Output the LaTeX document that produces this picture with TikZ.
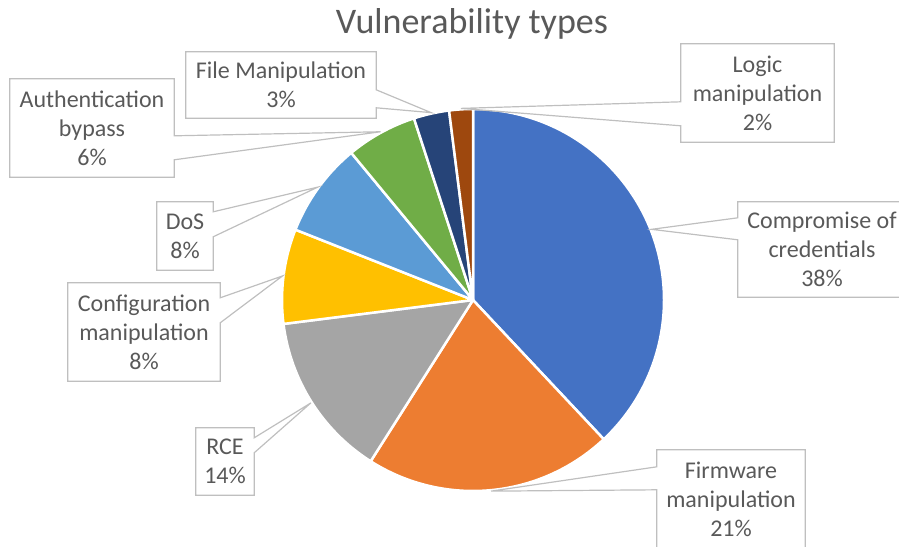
\documentclass[tikz,border=0pt]{standalone}
\usepackage{fontspec}
\setmainfont{Carlito}
\usetikzlibrary{calc, positioning}

\definecolor{txtgray}{HTML}{595959}
\definecolor{boxgray}{HTML}{BFBFBF}
\definecolor{cblue}{HTML}{4472C4}
\definecolor{corange}{HTML}{ED7D31}
\definecolor{cgray}{HTML}{A5A5A5}
\definecolor{cyellow}{HTML}{FFC000}
\definecolor{clblue}{HTML}{5B9BD5}
\definecolor{cgreen}{HTML}{70AD47}
\definecolor{cdblue}{HTML}{264478}
\definecolor{cbrown}{HTML}{9E480E}

\tikzset{
  callout/.style={shape=rectangle, inner sep=0pt, align=center, text=txtgray, font=\fontsize{24}{29}\selectfont},
  wedge/.style={draw=boxgray, line width=1.2pt, line join=miter}
}

\begin{document}
\begin{tikzpicture}[x=1pt, y=-1pt]
\useasboundingbox (0,0) rectangle (899,546);
\node[anchor=base, text=txtgray, font=\fontsize{36}{43}\selectfont] (title) at (472,33) {Vulnerability types};

\coordinate (ctr) at (473,300);
% slices, clockwise from the top
\foreach \a/\b/\col in {90/-46.8/cblue, -46.8/-122.4/corange, -122.4/-172.8/cgray, -172.8/-201.6/cyellow,
  -201.6/-230.4/clblue, -230.4/-252/cgreen, -252/-262.8/cdblue, -262.8/-270/cbrown}
  \filldraw[fill=\col, draw=white, line width=2.5pt, line join=round] (ctr) -- ++(\a:191pt) arc[start angle=\a, end angle=\b, radius=191pt] -- cycle;

% callout tips on the rim
\coordinate (tcomp) at ($(ctr)+(21.6:192pt)$);
\coordinate (tfirm) at ($(ctr)+(-84.6:192pt)$);
\coordinate (trce) at ($(ctr)+(-147.6:192pt)$);
\coordinate (tconf) at ($(ctr)+(172.8:192pt)$);
\coordinate (tdos) at ($(ctr)+(144:192pt)$);
\coordinate (tauth) at ($(ctr)+(118.8:192pt)$);
\coordinate (tfile) at ($(ctr)+(102.6:192pt)$);
\coordinate (tlogic) at ($(ctr)+(93.6:192pt)$);

\node[callout, minimum width=168pt, minimum height=95pt] (comp) at (822,249.5) {Compromise of\\credentials\\38\%};
\node[callout, minimum width=148pt, minimum height=98pt] (firm) at (731,499) {Firmware\\manipulation\\21\%};
\node[callout, minimum width=58pt, minimum height=67pt] (rce) at (225,461.5) {RCE\\14\%};
\node[callout, minimum width=152pt, minimum height=98pt] (conf) at (144,332) {Configuration\\manipulation\\8\%};
\node[callout, minimum width=56pt, minimum height=68pt] (dos) at (185,236) {DoS\\8\%};
\node[callout, minimum width=164pt, minimum height=98pt] (auth) at (92,128) {Authentication\\bypass\\6\%};
\node[callout, minimum width=190pt, minimum height=66pt] (filem) at (281,85) {File Manipulation\\3\%};
\node[callout, minimum width=153pt, minimum height=98pt] (logic) at (757.5,93) {Logic\\manipulation\\2\%};

% outlines with pointers
\draw[wedge] (comp.north west) -- (comp.north east) -- (comp.south east) -- (comp.south west) -- ([yshift=-38pt]comp.north west) -- (tcomp) -- ([yshift=-16pt]comp.north west) -- cycle;
\draw[wedge] (firm.north west) -- (firm.north east) -- (firm.south east) -- (firm.south west) -- ([yshift=-40pt]firm.north west) -- (tfirm) -- ([yshift=-17pt]firm.north west) -- cycle;
\draw[wedge] (logic.north west) -- (logic.north east) -- (logic.south east) -- (logic.south west) -- ([yshift=-82pt]logic.north west) -- (tlogic) -- ([yshift=-58pt]logic.north west) -- cycle;
\draw[wedge] (rce.north west) -- (rce.north east) -- ([yshift=-10pt]rce.north east) -- (trce) -- ([yshift=-25pt]rce.north east) -- (rce.south east) -- (rce.south west) -- cycle;
\draw[wedge] (conf.north west) -- (conf.north east) -- ([yshift=-15pt]conf.north east) -- (tconf) -- ([yshift=-40pt]conf.north east) -- (conf.south east) -- (conf.south west) -- cycle;
\draw[wedge] (dos.north west) -- (dos.north east) -- ([yshift=-10pt]dos.north east) -- (tdos) -- ([yshift=-35pt]dos.north east) -- (dos.south east) -- (dos.south west) -- cycle;
\draw[wedge] (auth.north west) -- (auth.north east) -- ([yshift=-57pt]auth.north east) -- (tauth) -- ([yshift=-81pt]auth.north east) -- (auth.south east) -- (auth.south west) -- cycle;
\draw[wedge] (filem.north west) -- (filem.north east) -- ([yshift=-38pt]filem.north east) -- (tfile) -- ([yshift=-56pt]filem.north east) -- (filem.south east) -- (filem.south west) -- cycle;
\end{tikzpicture}
\end{document}
